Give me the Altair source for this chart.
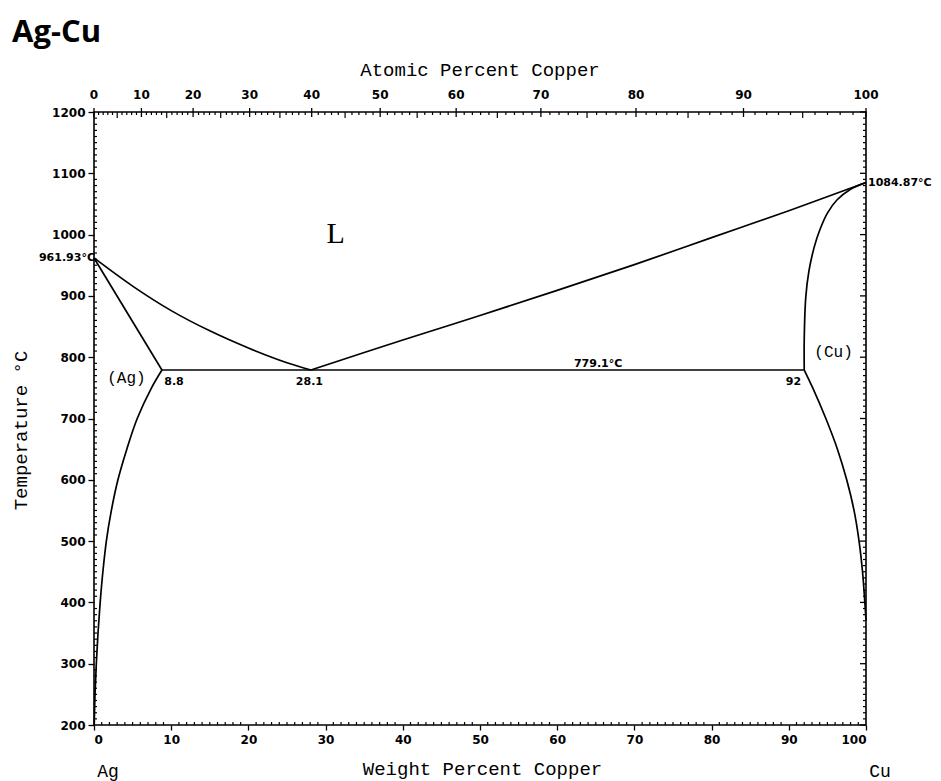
import altair as alt
import pandas as pd

# atomic masses used to relate atomic % to weight % (top axis)
AG_MASS, CU_MASS = 107.868, 63.546

def at_to_wt(a):
    return 100.0 * a * CU_MASS / (a * CU_MASS + (100.0 - a) * AG_MASS)

# ---- phase boundaries (weight % Cu, temperature °C) ----
liq_ag_wt = [0, 5, 10, 15, 20, 25, 28.1]
liq_ag_T = [961.93, 916, 876, 843, 815, 791, 779.1]

liq_cu_wt = [28.1, 40, 50, 60, 70, 80, 90, 100]
liq_cu_T = [779.1, 828, 868, 909, 951, 995, 1039, 1084.87]

sol_ag_wt = [0, 8.8]
sol_ag_T = [961.93, 779.1]

solv_ag_wt = [8.8, 7.45, 5.6, 4.25, 3.1, 2.25, 1.6, 1.15, 0.8, 0.52, 0.3, 0.13, 0.03]
solv_ag_T = [779.1, 750, 700, 650, 600, 550, 500, 450, 400, 350, 300, 250, 200]

sol_cu_wt = [92, 92.0, 92.2, 92.6, 93.3, 94.0, 95.0, 96.2, 98.0, 100]
sol_cu_T = [779.1, 830, 898, 940, 980, 1007, 1035, 1056, 1074, 1084.87]

solv_cu_wt = [92, 93.1, 94.8, 96.3, 97.5, 98.45, 99.1, 99.55, 99.85, 100]
solv_cu_T = [779.1, 750, 700, 650, 600, 550, 500, 450, 400, 370]

eut_wt = [8.8, 92]
eut_T = [779.1, 779.1]

# ---- tick values ----
wt_major = list(range(0, 101, 10))
temp_major = list(range(200, 1201, 100))
at_major = list(range(0, 101, 10))
at_mid = list(range(5, 100, 10))
at_minor = [a for a in range(1, 100) if a % 5]
wt_minor = [w for w in range(1, 100) if w % 10]
temp_minor = [t for t in range(210, 1200, 10) if t % 100]

# ---- labels ----
small_txt = ["8.8", "28.1", "779.1°C", "92"]
small_wt = [9.1, 27.9, 65.3, 91.6]
small_T = [754, 754, 784, 754]
small_align = ["left", "center", "center", "right"]

phase_txt = ["(Ag)", "(Cu)"]
phase_wt = [4.2, 95.8]
phase_T = [766, 808]

W, H = 772, 613

segs = [
    ("liq_ag", liq_ag_wt, liq_ag_T),
    ("liq_cu", liq_cu_wt, liq_cu_T),
    ("sol_ag", sol_ag_wt, sol_ag_T),
    ("solv_ag", solv_ag_wt, solv_ag_T),
    ("sol_cu", sol_cu_wt, sol_cu_T),
    ("solv_cu", solv_cu_wt, solv_cu_T),
    ("eut", eut_wt, eut_T),
]
rows = []
for name, ws, ts in segs:
    for i, (w, t) in enumerate(zip(ws, ts)):
        rows.append({"seg": name, "i": i, "wt": w, "T": t})
curves = pd.DataFrame(rows)

xscale = alt.Scale(domain=[0, 100], nice=False, zero=False)
yscale = alt.Scale(domain=[200, 1200], nice=False, zero=False)

lines = alt.Chart(curves).mark_line(color="black", strokeWidth=1.7, interpolate="catmull-rom").encode(
    x=alt.X("wt:Q", scale=xscale, axis=alt.Axis(
        values=wt_major, format="d", tickSize=5, tickColor="black", tickWidth=1.3,
        labelFont="DejaVu Sans", labelFontSize=12, labelFontWeight="bold",
        labelColor="black", labelPadding=4, domain=False, grid=False,
        title="Weight Percent Copper", titleFont="Liberation Mono", titleFontSize=19,
        titleFontWeight="normal", titleColor="black", titleX=388, titleY=43,
        titleAlign="center", titleBaseline="middle")),
    y=alt.Y("T:Q", scale=yscale, axis=alt.Axis(
        values=temp_major, format="d", tickSize=6, tickColor="black", tickWidth=1.3,
        labelFont="DejaVu Sans", labelFontSize=12, labelFontWeight="bold",
        labelColor="black", labelPadding=3, domain=False, grid=False,
        title="Temperature °C", titleFont="Liberation Mono", titleFontSize=19,
        titleFontWeight="normal", titleColor="black", titleX=-74, titleY=318,
        titleAngle=-90, titleAlign="center", titleBaseline="middle")),
    detail="seg:N",
    order="i:Q",
)

# minor ticks
bot_minor = alt.Chart(pd.DataFrame({"wt": wt_minor})).mark_rule(color="black", strokeWidth=1.2).encode(
    x="wt:Q", y=alt.value(H), y2=alt.value(H - 3))
left_minor = alt.Chart(pd.DataFrame({"T": temp_minor})).mark_rule(color="black", strokeWidth=1.2).encode(
    y="T:Q", x=alt.value(0), x2=alt.value(3))
right_minor = alt.Chart(pd.DataFrame({"T": temp_minor})).mark_rule(color="black", strokeWidth=1.2).encode(
    y="T:Q", x=alt.value(W), x2=alt.value(W - 3))
right_major = alt.Chart(pd.DataFrame({"T": temp_major})).mark_rule(color="black", strokeWidth=1.3).encode(
    y="T:Q", x=alt.value(W), x2=alt.value(W - 6))

top_minor = alt.Chart(pd.DataFrame({"wt": [at_to_wt(a) for a in at_minor]})).mark_rule(
    color="black", strokeWidth=1.2).encode(x="wt:Q", y=alt.value(0), y2=alt.value(3))
top_mid = alt.Chart(pd.DataFrame({"wt": [at_to_wt(a) for a in at_mid]})).mark_rule(
    color="black", strokeWidth=1.2).encode(x="wt:Q", y=alt.value(0), y2=alt.value(6))
top_df = pd.DataFrame({"wt": [at_to_wt(a) for a in at_major], "lab": [str(a) for a in at_major]})
top_major = alt.Chart(top_df).mark_rule(color="black", strokeWidth=1.3).encode(
    x="wt:Q", y=alt.value(-4), y2=alt.value(5))
top_labels = alt.Chart(top_df).mark_text(
    font="DejaVu Sans", fontSize=12, fontWeight="bold", color="black", baseline="middle"
).encode(x="wt:Q", y=alt.value(-17), text="lab:N")
top_title = alt.Chart(pd.DataFrame({"wt": [50], "lab": ["Atomic Percent Copper"]})).mark_text(
    font="Liberation Mono", fontSize=19, color="black", baseline="middle"
).encode(x="wt:Q", y=alt.value(-42), text="lab:N")

# end labels Ag / Cu
ends = alt.Chart(pd.DataFrame({"wt": [0, 100], "lab": ["Ag", "Cu"]})).mark_text(
    font="Liberation Mono", fontSize=18, color="black", baseline="middle", dx=14
).encode(x="wt:Q", y=alt.value(H + 47), text="lab:N")

# temperatures of melting points
mp_left = alt.Chart(pd.DataFrame({"wt": [0], "T": [961.93], "lab": ["961.93°C"]})).mark_text(
    font="DejaVu Sans", fontSize=11, fontWeight="bold", color="black", align="right",
    baseline="middle", dx=1).encode(x="wt:Q", y="T:Q", text="lab:N")
mp_right = alt.Chart(pd.DataFrame({"wt": [100], "T": [1084.87], "lab": ["1084.87°C"]})).mark_text(
    font="DejaVu Sans", fontSize=11, fontWeight="bold", color="black", align="left",
    baseline="middle", dx=2).encode(x="wt:Q", y="T:Q", text="lab:N")

small_layers = []
for t, w, T, a in zip(small_txt, small_wt, small_T, small_align):
    small_layers.append(
        alt.Chart(pd.DataFrame({"wt": [w], "T": [T], "lab": [t]})).mark_text(
            font="DejaVu Sans", fontSize=11, fontWeight="bold", color="black",
            align=a, baseline="alphabetic").encode(x="wt:Q", y="T:Q", text="lab:N"))

phases = alt.Chart(pd.DataFrame({"wt": phase_wt, "T": phase_T, "lab": phase_txt})).mark_text(
    font="Liberation Mono", fontSize=16, color="black", baseline="middle"
).encode(x="wt:Q", y="T:Q", text="lab:N")

liquid = alt.Chart(pd.DataFrame({"wt": [31.3], "T": [986], "lab": ["L"]})).mark_text(
    font="Liberation Serif", fontSize=30, color="black", baseline="alphabetic"
).encode(x="wt:Q", y="T:Q", text="lab:N")

chart = alt.layer(
    lines, bot_minor, left_minor, right_minor, right_major,
    top_minor, top_mid, top_major, top_labels, top_title, ends,
    mp_left, mp_right, *small_layers, phases, liquid,
).properties(
    width=W, height=H,
    autosize=alt.AutoSizeParams(type="none"),
    padding={"left": 94, "top": 112, "right": 75, "bottom": 56},
    title=alt.TitleParams("Ag-Cu", anchor="start", frame="group", font="Open Sans",
                          fontSize=31, fontWeight="bold", color="black", dx=-82, offset=12),
    background="white",
).configure_view(stroke="black", strokeWidth=1.6)

chart.save("out.html", embed_options={"renderer": "svg", "actions": False})
